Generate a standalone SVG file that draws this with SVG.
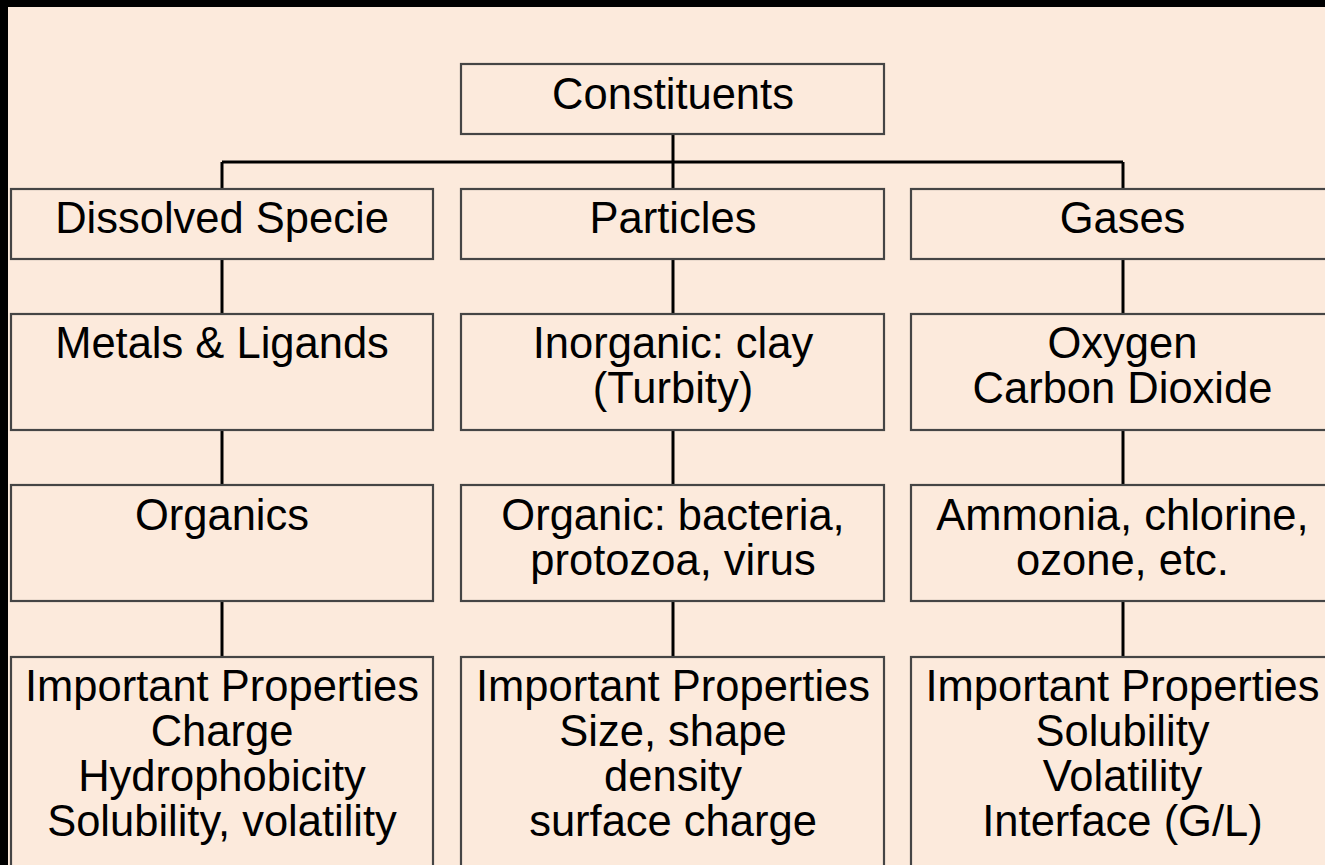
<svg xmlns="http://www.w3.org/2000/svg" width="1325" height="865" viewBox="0 0 1325 865">
<style>
.bx{fill:#FCEADC;stroke:#454545;stroke-width:2.2}
.cn{stroke:#000;stroke-width:3;fill:none}
text{font-family:"Liberation Sans",Arial,sans-serif;font-size:43.5px;fill:#000;text-anchor:middle}
</style>
<rect x="0" y="0" width="1325" height="865" fill="#000"/>
<rect x="8" y="7" width="1317" height="858" fill="#FCEADC"/>
<g id="connectors">
<path class="cn" d="M673 134V189M222 162H1123M222 162V189M1123 162V189"/>
<path class="cn" d="M222 259V314M222 430V485M222 601V657"/>
<path class="cn" d="M673 259V314M673 430V485M673 601V657"/>
<path class="cn" d="M1123 259V314M1123 430V485M1123 601V657"/>
</g>
<g id="constituents"><rect class="bx" x="461" y="64" width="423" height="70"/><text x="673" y="109">Constituents</text></g>
<g id="dissolved"><rect class="bx" x="11" y="189" width="422" height="70"/><text x="222" y="233">Dissolved Specie</text></g>
<g id="particles"><rect class="bx" x="461" y="189" width="423" height="70"/><text x="673" y="233">Particles</text></g>
<g id="gases"><rect class="bx" x="911" y="189" width="430" height="70"/><text x="1122.5" y="233">Gases</text></g>
<g id="metals"><rect class="bx" x="11" y="314" width="422" height="116"/><text x="222" y="358">Metals &amp; Ligands</text></g>
<g id="inorganic"><rect class="bx" x="461" y="314" width="423" height="116"/><text x="673" y="358">Inorganic: clay</text><text x="673" y="403">(Turbity)</text></g>
<g id="oxygen"><rect class="bx" x="911" y="314" width="430" height="116"/><text x="1122.5" y="358">Oxygen</text><text x="1122.5" y="403">Carbon Dioxide</text></g>
<g id="organics"><rect class="bx" x="11" y="485" width="422" height="116"/><text x="222" y="530">Organics</text></g>
<g id="organic"><rect class="bx" x="461" y="485" width="423" height="116"/><text x="673" y="530">Organic: bacteria,</text><text x="673" y="575">protozoa, virus</text></g>
<g id="ammonia"><rect class="bx" x="911" y="485" width="430" height="116"/><text x="1122.5" y="530">Ammonia, chlorine,</text><text x="1122.5" y="575">ozone, etc.</text></g>
<g id="props-dissolved"><rect class="bx" x="11" y="657" width="422" height="220"/><text x="222" y="701">Important Properties</text><text x="222" y="746">Charge</text><text x="222" y="791">Hydrophobicity</text><text x="222" y="836">Solubility, volatility</text></g>
<g id="props-particles"><rect class="bx" x="461" y="657" width="423" height="220"/><text x="673" y="701">Important Properties</text><text x="673" y="746">Size, shape</text><text x="673" y="791">density</text><text x="673" y="836">surface charge</text></g>
<g id="props-gases"><rect class="bx" x="911" y="657" width="430" height="220"/><text x="1122.5" y="701">Important Properties</text><text x="1122.5" y="746">Solubility</text><text x="1122.5" y="791">Volatility</text><text x="1122.5" y="836">Interface (G/L)</text></g>
</svg>
